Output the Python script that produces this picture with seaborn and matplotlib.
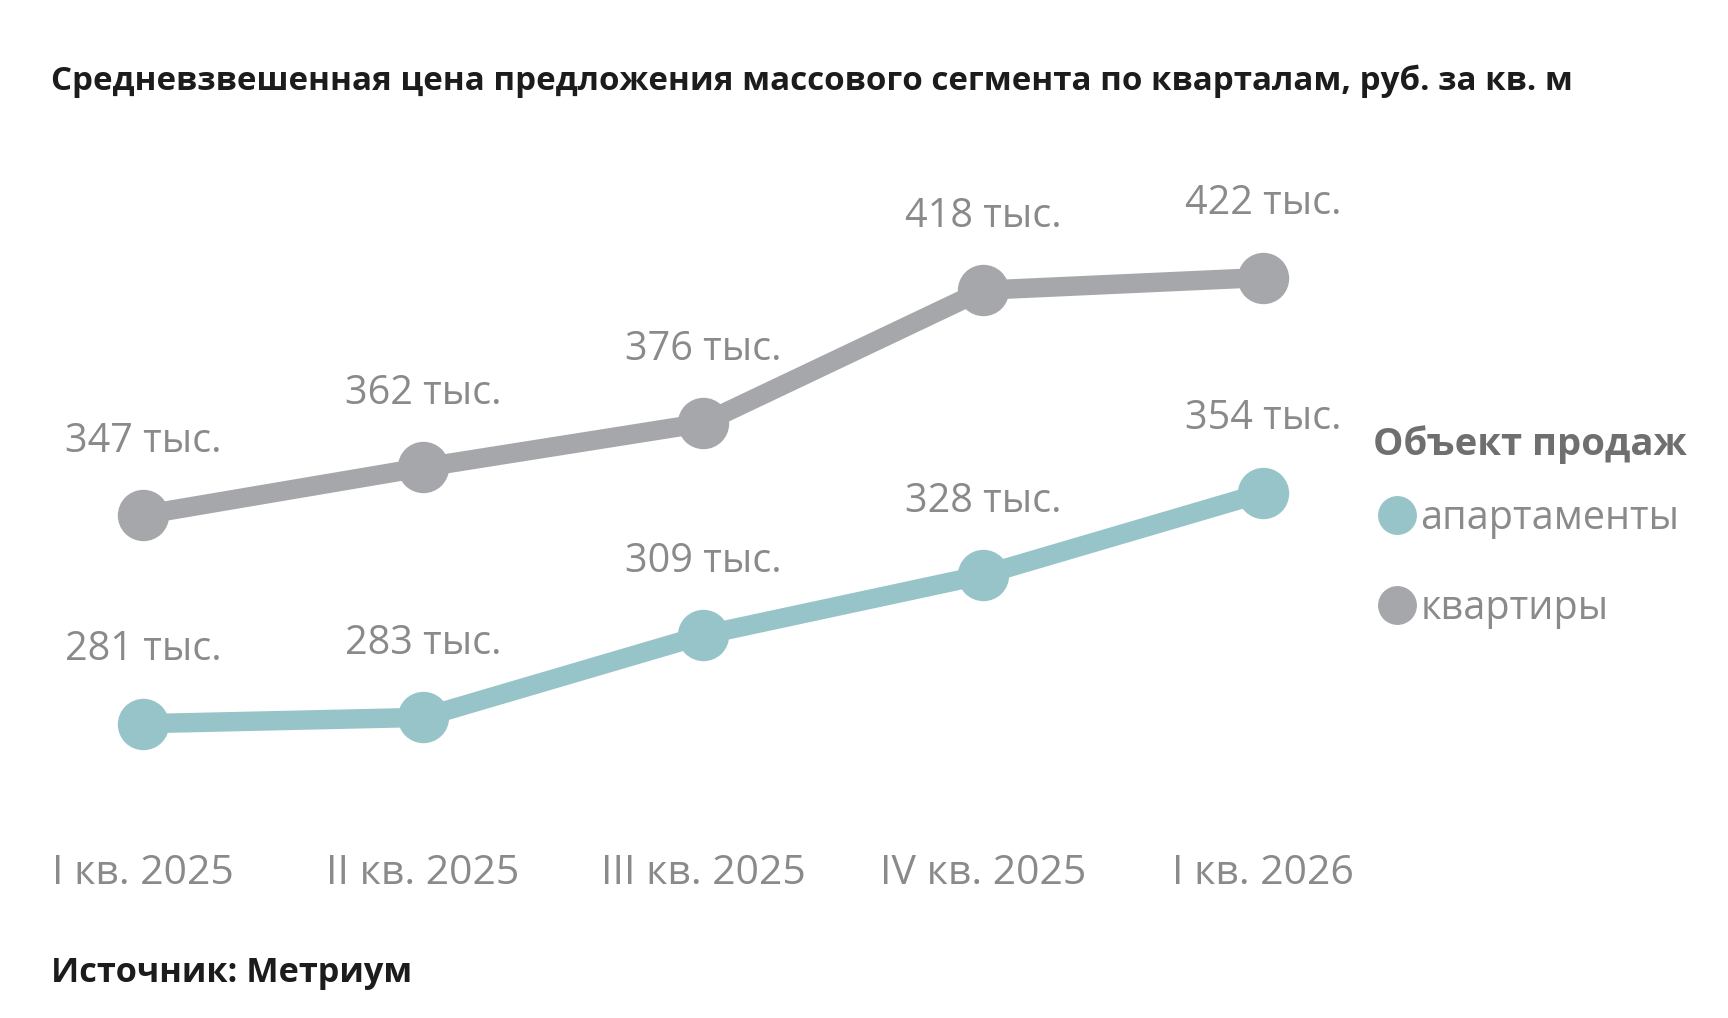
import numpy as np
import pandas as pd
import matplotlib
matplotlib.use("Agg")
import matplotlib.pyplot as plt
import seaborn as sns
from matplotlib.lines import Line2D

# data
quarters = ["I кв. 2025", "II кв. 2025", "III кв. 2025", "IV кв. 2025", "I кв. 2026"]
apartments = [281, 283, 309, 328, 354]
flats = [347, 362, 376, 418, 422]
series_names = ["апартаменты", "квартиры"]

colors = {"апартаменты": "#97c4c8", "квартиры": "#a5a7aa"}
label_color = "#8a8a8a"

df = pd.DataFrame({
    "quarter": list(range(len(quarters))) * 2,
    "value": apartments + flats,
    "series": [series_names[0]] * len(quarters) + [series_names[1]] * len(quarters),
})

sns.set_style("white")
plt.rcParams["font.family"] = ["Open Sans", "DejaVu Sans"]

fig = plt.figure(figsize=(17.28, 10.18), dpi=100)
ax = fig.add_axes([0.0017, 0.1803, 0.8102, 0.6714])

sns.lineplot(data=df, x="quarter", y="value", hue="series", palette=colors,
             hue_order=series_names, marker="o", markersize=37, linewidth=14,
             markeredgewidth=0, legend=False, ax=ax, zorder=3)

# value labels
for name, vals in zip(series_names, [apartments, flats]):
    for i, v in enumerate(vals):
        ax.annotate(f"{v} тыс.", (i, v), xytext=(0, 53), textcoords="offset points",
                    ha="center", va="center", fontsize=28.5, color=label_color)

ax.set_xlim(-0.5, 4.5)
ax.set_ylim(246, 462)
ax.set_xticks(range(len(quarters)))
ax.set_xticklabels(quarters, fontsize=29.5, color=label_color)
ax.tick_params(axis="x", length=0, pad=14)
ax.set_yticks([])
ax.set_xlabel("")
ax.set_ylabel("")
sns.despine(ax=ax, left=True, bottom=True)

# legend
handles = [Line2D([], [], marker="o", linestyle="none", markersize=28,
                  markerfacecolor=colors[n], markeredgewidth=0) for n in series_names]
leg = fig.legend(handles, series_names, title="Объект продаж", loc="upper left",
                 bbox_to_anchor=(0.783, 0.602), frameon=False, fontsize=28.5,
                 title_fontsize=27.5, handletextpad=0.0, handlelength=1.2,
                 labelspacing=1.25, borderpad=0, labelcolor=label_color)
leg.get_title().set_color("#6f6f6f")
leg.get_title().set_fontweight("bold")
leg._legend_box.align = "left"
leg._legend_box.sep = 25

fig.text(0.0295, 0.92, "Средневзвешенная цена предложения массового сегмента по кварталам, руб. за кв. м",
         fontsize=23.85, fontweight="bold", color="#1c1c1c", ha="left", va="center")
fig.text(0.0295, 0.044, "Источник: Метриум", fontsize=24.7, fontweight="bold",
         color="#1c1c1c", ha="left", va="center")

fig.savefig("out.png", dpi=100, facecolor="white")
